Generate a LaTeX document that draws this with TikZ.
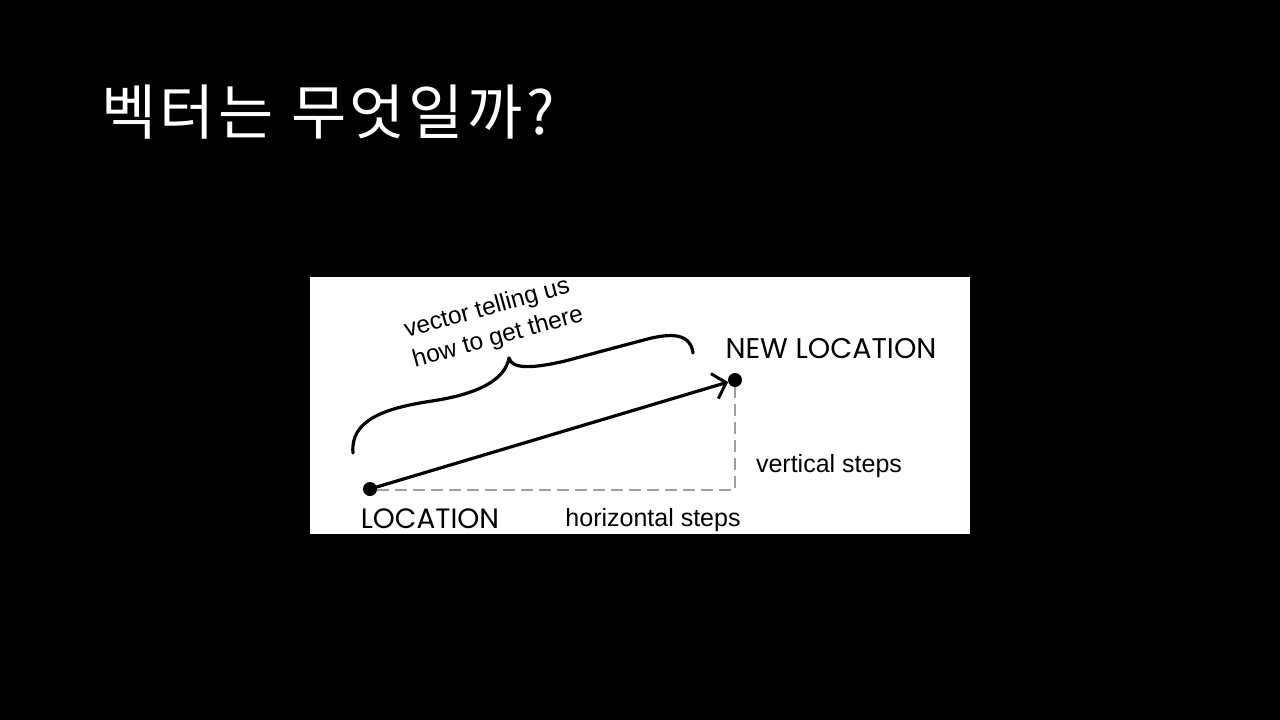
\documentclass[tikz,border=0pt]{standalone}
\usepackage{fontspec}
\usetikzlibrary{arrows.meta}
\newfontfamily\krfont[LetterSpace=6]{Noto Sans CJK KR}
\newfontfamily\geofont{Poppins}
\newfontfamily\helvfont{Liberation Sans}
\definecolor{dashgray}{RGB}{160,160,160}
\tikzset{
  dotnode/.style={circle,fill=black,inner sep=0pt,minimum size=14pt},
  inklabel/.style={inner sep=0pt,text=black},
  inkline/.style={line width=3.2pt,line cap=round,line join=round,black},
  helperdash/.style={dashgray,line width=1.6pt,dash pattern=on 12pt off 6pt},
}
\begin{document}
\begin{tikzpicture}[x=1pt,y=-1pt]
\useasboundingbox (0,0) rectangle (1280,720);
\fill[black] (0,0) rectangle (1280,720);
% title
\node[anchor=base west,inner sep=0pt,text=white,font=\krfont\fontsize{60}{64}\selectfont] (title) at (101,134) {벡터는 무엇일까?};
% white panel
\fill[white] (310,277) rectangle (970,534);
% dots
\node[dotnode] (A) at (370,489) {};
\node[dotnode] (B) at (735,380) {};
\coordinate (C) at (735,490);
% dashed helper lines
\draw[helperdash] (A.east |- C) -- (C) -- (B);
% vector arrow
\draw[inkline,-{Straight Barb[length=12pt,width=26pt,line width=3pt]}] (A) -- (B);
% brace
\draw[inkline] (353,453) .. controls (350,420) and (385,408) .. (432,401)
  .. controls (478,394) and (505,380) .. (509,358)
  .. controls (512,370) and (535,368) .. (565,361)
  -- (640,341) .. controls (665,334) and (690,330) .. (693,353);
% labels
\node[inklabel,align=left,rotate=15.5,font=\helvfont\fontsize{24.5}{31}\selectfont] (vec) at (494,323) {vector telling us\\how to get there};
\node[inklabel,font=\geofont\fontsize{28.5}{32}\selectfont] (newloc) at (831,349) {NEW LOCATION};
\node[inklabel,font=\geofont\fontsize{28}{32}\selectfont] (loc) at (430,519) {LOCATION};
\node[inklabel,font=\helvfont\fontsize{25}{30}\selectfont] (vert) at (829,466) {vertical steps};
\node[inklabel,font=\helvfont\fontsize{25}{30}\selectfont] (horz) at (653,520) {horizontal steps};
\end{tikzpicture}
\end{document}
